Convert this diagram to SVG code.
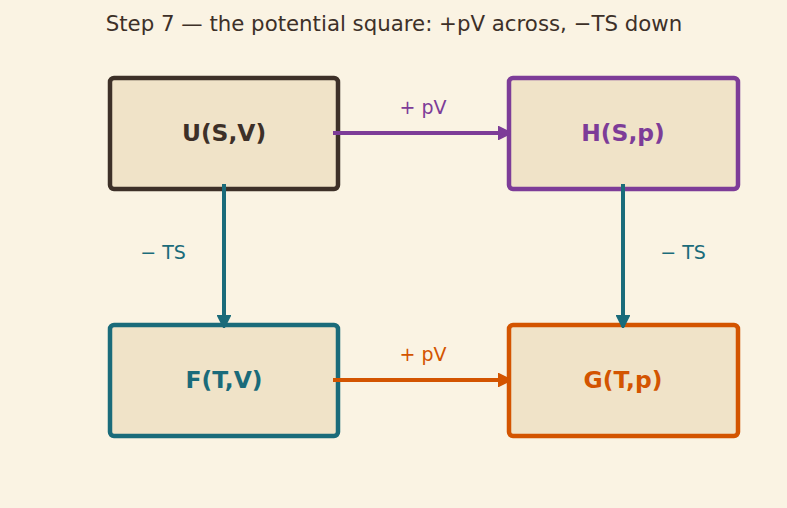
<svg xmlns="http://www.w3.org/2000/svg" width="787" height="508" viewBox="0 0 787 508">
<style>
.box{fill:#F0E3C8;stroke-width:4.5}
.nt{font-family:"DejaVu Sans",sans-serif;font-size:23.4px;font-weight:bold;text-anchor:middle;dominant-baseline:central}
.lbl{font-family:"DejaVu Sans",sans-serif;font-size:19px;text-anchor:middle;dominant-baseline:central}
.c{fill:none;stroke-width:4}
</style>
<defs>
<marker id="mp" viewBox="0 0 10 10" refX="9" refY="5" markerWidth="3.4" markerHeight="3.4" orient="auto"><path d="M0,0 L10,5 L0,10 Z" fill="#7D3C98" stroke="#7D3C98" stroke-linejoin="round"/></marker>
<marker id="mt" viewBox="0 0 10 10" refX="9" refY="5" markerWidth="3.4" markerHeight="3.4" orient="auto"><path d="M0,0 L10,5 L0,10 Z" fill="#1A6B7A" stroke="#1A6B7A" stroke-linejoin="round"/></marker>
<marker id="mo" viewBox="0 0 10 10" refX="9" refY="5" markerWidth="3.4" markerHeight="3.4" orient="auto"><path d="M0,0 L10,5 L0,10 Z" fill="#D35400" stroke="#D35400" stroke-linejoin="round"/></marker>
</defs>
<rect width="787" height="508" fill="#FAF3E3"/>
<text x="394" y="23" font-family="DejaVu Sans, sans-serif" font-size="21.3" fill="#3D3028" text-anchor="middle" dominant-baseline="central">Step 7 — the potential square: +pV across, −TS down</text>
<g id="U"><rect class="box" x="110" y="78" width="228" height="111" rx="4" stroke="#3D3028"/><text class="nt" x="224" y="133" fill="#3D3028">U(S,V)</text></g>
<g id="H"><rect class="box" x="509" y="78" width="229" height="111" rx="4" stroke="#7D3C98"/><text class="nt" x="623" y="133" fill="#7D3C98">H(S,p)</text></g>
<g id="F"><rect class="box" x="110" y="325" width="228" height="111" rx="4" stroke="#1A6B7A"/><text class="nt" x="224" y="380" fill="#1A6B7A">F(T,V)</text></g>
<g id="G"><rect class="box" x="509" y="325" width="229" height="111" rx="4" stroke="#D35400"/><text class="nt" x="623" y="380" fill="#D35400">G(T,p)</text></g>
<g id="connectors">
<line class="c" x1="333" y1="133" x2="510" y2="133" stroke="#7D3C98" marker-end="url(#mp)"/>
<text class="lbl" x="423" y="107" fill="#7D3C98">+ pV</text>
<line class="c" x1="333" y1="380" x2="510" y2="380" stroke="#D35400" marker-end="url(#mo)"/>
<text class="lbl" x="423" y="354" fill="#D35400">+ pV</text>
<line class="c" x1="224" y1="184" x2="224" y2="327" stroke="#1A6B7A" marker-end="url(#mt)"/>
<text class="lbl" x="163" y="252" fill="#1A6B7A">− TS</text>
<line class="c" x1="623" y1="184" x2="623" y2="327" stroke="#1A6B7A" marker-end="url(#mt)"/>
<text class="lbl" x="683" y="252" fill="#1A6B7A">− TS</text>
</g>
</svg>
